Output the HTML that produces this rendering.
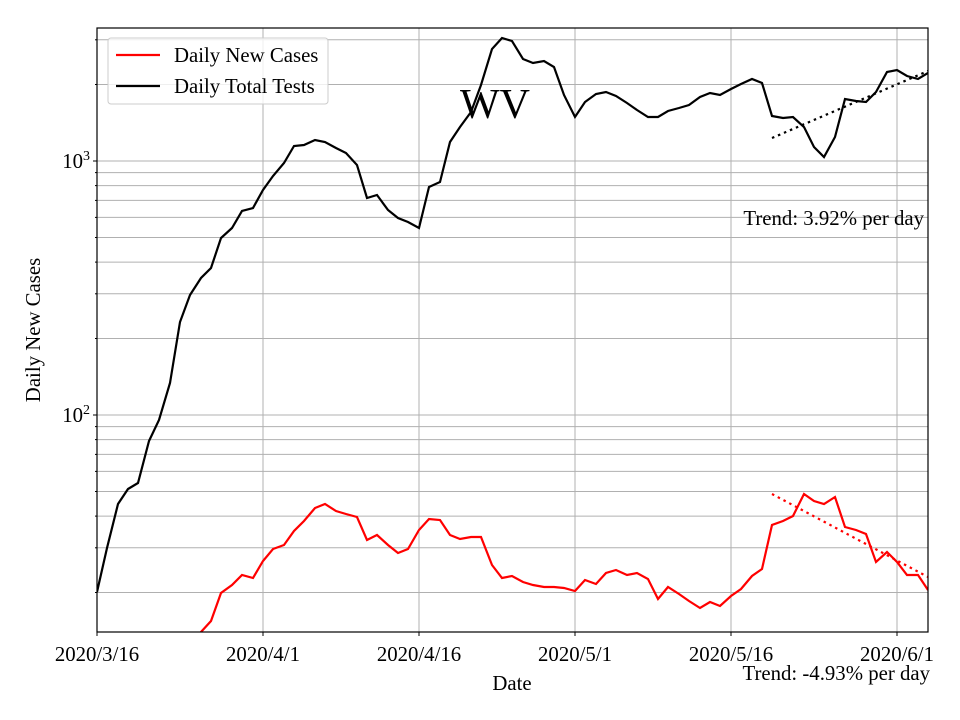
<!DOCTYPE html>
<html><head><meta charset="utf-8"><style>
html,body{margin:0;padding:0;background:#fff;}
svg{display:block;font-family:"Liberation Serif",serif;}
</style></head><body>
<svg width="960" height="720" viewBox="0 0 960 720" xmlns="http://www.w3.org/2000/svg">
<rect width="960" height="720" fill="#fff"/>
<g stroke="#b0b0b0" stroke-width="1">
<line x1="97" x2="928" y1="592.5" y2="592.5"/><line x1="97" x2="928" y1="547.8" y2="547.8"/>
<line x1="97" x2="928" y1="516.1" y2="516.1"/><line x1="97" x2="928" y1="491.5" y2="491.5"/>
<line x1="97" x2="928" y1="471.4" y2="471.4"/><line x1="97" x2="928" y1="454.4" y2="454.4"/>
<line x1="97" x2="928" y1="439.6" y2="439.6"/><line x1="97" x2="928" y1="426.6" y2="426.6"/>
<line x1="97" x2="928" y1="415" y2="415"/><line x1="97" x2="928" y1="338.5" y2="338.5"/>
<line x1="97" x2="928" y1="293.8" y2="293.8"/><line x1="97" x2="928" y1="262.1" y2="262.1"/>
<line x1="97" x2="928" y1="237.5" y2="237.5"/><line x1="97" x2="928" y1="217.4" y2="217.4"/>
<line x1="97" x2="928" y1="200.4" y2="200.4"/><line x1="97" x2="928" y1="185.6" y2="185.6"/>
<line x1="97" x2="928" y1="172.6" y2="172.6"/><line x1="97" x2="928" y1="161" y2="161"/>
<line x1="97" x2="928" y1="84.5" y2="84.5"/><line x1="97" x2="928" y1="39.8" y2="39.8"/>
<line x1="263" x2="263" y1="28" y2="632"/><line x1="419" x2="419" y1="28" y2="632"/>
<line x1="575" x2="575" y1="28" y2="632"/><line x1="731" x2="731" y1="28" y2="632"/>
<line x1="897" x2="897" y1="28" y2="632"/>
</g>
<defs><clipPath id="c"><rect x="97" y="28" width="831" height="604"/></clipPath></defs>
<g clip-path="url(#c)" fill="none" stroke-width="2.2">
<polyline stroke="#000" points="97,592 107,548 118,504 128,489 138,483 149,441 159,420 170,383 180,322 190,295 201,278 211,268 221,238 232,228 242,211 253,208 263,190 273,176 284,163 294,146 304,145 315,140 325,142 336,148 346,153 357,165 367,198 377,195 388,210 398,218 408,222 419,228 429,187 440,182 450,142 460,127 471,112 481,85 492,49 502,38 512,41 523,59 533,63 544,61 554,67 564,95 575,117 585,102 596,94 606,92 616,96 627,103 637,110 648,117 658,117 668,111 679,108 689,105 700,97 710,93 720,95 731,89 741,84 752,79 762,83 772,116 783,118 793,117 804,127 814,147 824,157 835,137 845,99 856,101 866,102 876,92 887,72 897,70 907,76 918,79 928,73"/>
<polyline stroke="#f00" points="195,640 201,632 211,621 221,593 232,585 242,575 253,578 263,561 273,549 284,545 294,531 304,521 315,508 325,504 336,511 346,514 357,517 367,540 377,535 388,545 398,553 408,549 419,530 429,519 440,520 450,535 460,539 471,537 481,537 492,565 502,578 512,576 523,582 533,585 544,587 554,587 564,588 575,591 585,580 596,584 606,573 616,570 627,575 637,573 648,579 658,599 668,587 679,594 689,601 700,608 710,602 720,606 731,596 741,589 752,576 762,569 772,525 783,521 793,516 804,494 814,501 824,504 835,497 845,527 856,530 866,534 876,562 887,552 897,562 907,575 918,575 928,590"/>
<line x1="772" y1="138" x2="928" y2="71" stroke="#000" stroke-dasharray="2.5,4"/>
<line x1="772" y1="494" x2="928" y2="577" stroke="#f00" stroke-dasharray="2.5,4"/>
</g>
<rect x="97" y="28" width="831" height="604" fill="none" stroke="#000" stroke-width="1.2"/>
<g stroke="#000" stroke-width="1">
<line x1="97" x2="93" y1="161" y2="161"/><line x1="97" x2="93" y1="415" y2="415"/>
<line x1="97" x2="95" y1="592.5" y2="592.5"/><line x1="97" x2="95" y1="547.8" y2="547.8"/><line x1="97" x2="95" y1="516.1" y2="516.1"/><line x1="97" x2="95" y1="491.5" y2="491.5"/><line x1="97" x2="95" y1="471.4" y2="471.4"/><line x1="97" x2="95" y1="454.4" y2="454.4"/><line x1="97" x2="95" y1="439.6" y2="439.6"/><line x1="97" x2="95" y1="426.6" y2="426.6"/>
<line x1="97" x2="95" y1="338.5" y2="338.5"/><line x1="97" x2="95" y1="293.8" y2="293.8"/><line x1="97" x2="95" y1="262.1" y2="262.1"/><line x1="97" x2="95" y1="237.5" y2="237.5"/><line x1="97" x2="95" y1="217.4" y2="217.4"/><line x1="97" x2="95" y1="200.4" y2="200.4"/><line x1="97" x2="95" y1="185.6" y2="185.6"/><line x1="97" x2="95" y1="172.6" y2="172.6"/><line x1="97" x2="95" y1="84.5" y2="84.5"/><line x1="97" x2="95" y1="39.8" y2="39.8"/>
<line x1="97" x2="97" y1="632" y2="636"/><line x1="263" x2="263" y1="632" y2="636"/><line x1="419" x2="419" y1="632" y2="636"/><line x1="575" x2="575" y1="632" y2="636"/><line x1="731" x2="731" y1="632" y2="636"/><line x1="897" x2="897" y1="632" y2="636"/>
</g>
<g font-size="20.8" fill="#000">
<text x="90" y="168" text-anchor="end">10<tspan font-size="14" dy="-8">3</tspan></text>
<text x="90" y="422" text-anchor="end">10<tspan font-size="14" dy="-8">2</tspan></text>
<g text-anchor="middle">
<text x="97" y="661">2020/3/16</text><text x="263" y="661">2020/4/1</text><text x="419" y="661">2020/4/16</text>
<text x="575" y="661">2020/5/1</text><text x="731" y="661">2020/5/16</text><text x="897" y="661">2020/6/1</text>
<text x="512" y="690">Date</text>
</g>
<text transform="translate(40,330) rotate(-90)" text-anchor="middle">Daily New Cases</text>
<text x="924" y="225" text-anchor="end">Trend: 3.92% per day</text>
<text x="930" y="680" text-anchor="end">Trend: -4.93% per day</text>
<text x="495" y="118" text-anchor="middle" font-size="42">WV</text>
</g>
<rect x="108" y="38" width="220" height="66" rx="3" fill="#fff" fill-opacity="0.8" stroke="#ccc"/>
<line x1="116" x2="160" y1="55" y2="55" stroke="#f00" stroke-width="2.2"/>
<line x1="116" x2="160" y1="86" y2="86" stroke="#000" stroke-width="2.2"/>
<text x="174" y="62" font-size="20.8">Daily New Cases</text>
<text x="174" y="93" font-size="20.8">Daily Total Tests</text>
</svg>
</body></html>
